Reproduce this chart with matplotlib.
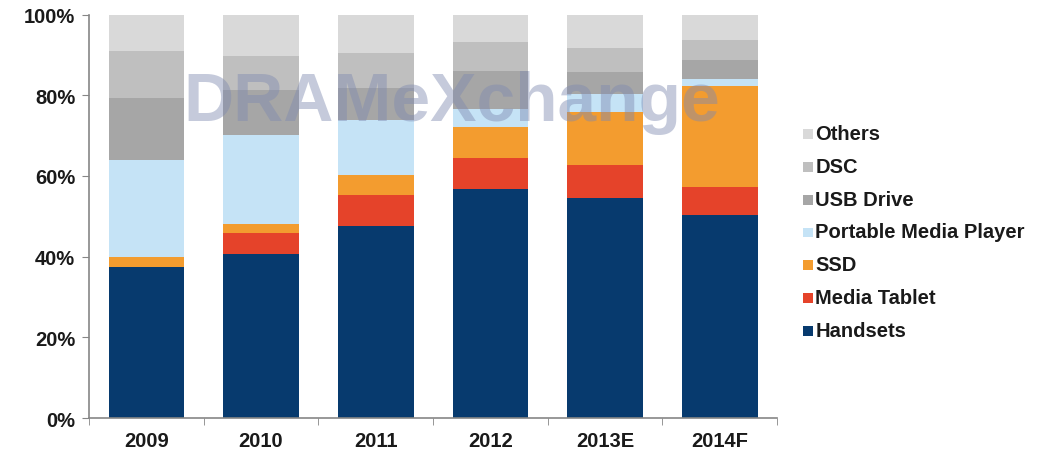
import matplotlib
matplotlib.use("Agg")
import matplotlib.pyplot as plt
import numpy as np
from matplotlib.patches import Patch
from matplotlib.ticker import FixedLocator, PercentFormatter

plt.rcParams["font.family"] = ["Liberation Sans", "DejaVu Sans"]

years = ["2009", "2010", "2011", "2012", "2013E", "2014F"]

# shares in % (bottom to top)
handsets = [37.4, 40.7, 47.7, 56.7, 54.6, 50.2]
media_tablet = [0.0, 5.1, 7.5, 7.7, 8.2, 7.0]
ssd = [2.6, 2.3, 5.1, 7.7, 13.1, 25.1]
portable_media_player = [23.9, 22.1, 13.5, 4.6, 4.5, 1.8]
usb_drive = [15.3, 11.0, 8.0, 9.3, 5.4, 4.7]
dsc = [11.8, 8.5, 8.7, 7.2, 5.9, 5.0]
others = [9.0, 10.3, 9.5, 6.8, 8.3, 6.2]

series = [
    ("Handsets", handsets, "#073a6e"),
    ("Media Tablet", media_tablet, "#e5432a"),
    ("SSD", ssd, "#f39c2f"),
    ("Portable Media Player", portable_media_player, "#c5e3f6"),
    ("USB Drive", usb_drive, "#a6a6a6"),
    ("DSC", dsc, "#bfbfbf"),
    ("Others", others, "#d9d9d9"),
]

fig = plt.figure(figsize=(10.56, 4.56), dpi=100)
ax = fig.add_axes([0.0843, 0.081, 0.6515, 0.885])

x = np.arange(len(years))
bottom = np.zeros(len(years))
for name, vals, color in series:
    vals = np.array(vals)
    ax.bar(x, vals, 0.66, bottom=bottom, color=color, label=name, zorder=2)
    bottom += vals

ax.set_xlim(-0.5, len(years) - 0.5)
ax.set_ylim(0, 100)
ax.yaxis.set_major_locator(FixedLocator([0, 20, 40, 60, 80, 100]))
ax.yaxis.set_major_formatter(PercentFormatter(decimals=0))
ax.set_xticks(x)
ax.set_xticklabels(years)
ax.set_xticks(np.arange(-0.5, len(years)), minor=True)
ax.tick_params(axis="x", which="major", length=0, pad=9)
ax.tick_params(axis="x", which="minor", length=5, color="#868686", direction="out")
ax.tick_params(axis="y", length=5, color="#868686", direction="out", pad=5)
for lab in ax.get_xticklabels() + ax.get_yticklabels():
    lab.set_fontsize(14.5)
    lab.set_fontweight("bold")
    lab.set_color("#1a1a1a")

for side in ["top", "right"]:
    ax.spines[side].set_visible(False)
for side in ["left", "bottom"]:
    ax.spines[side].set_color("#868686")
    ax.spines[side].set_linewidth(1.2)

# watermark
fig.text(0.428, 0.775, "DRAMeXchange", fontsize=50, fontweight="bold",
         color="#7f8ab0", alpha=0.45, ha="center", va="center", zorder=5)

handles = [Patch(facecolor=c, edgecolor="none") for _, _, c in series][::-1]
labels = [n for n, _, _ in series][::-1]
leg = fig.legend(handles, labels, loc="upper left", bbox_to_anchor=(0.755, 0.738),
                 frameon=False, handlelength=0.7, handleheight=0.7,
                 handletextpad=0.2, labelspacing=0.99, borderaxespad=0)
for t in leg.get_texts():
    t.set_fontsize(14.5)
    t.set_fontweight("bold")
    t.set_color("#1a1a1a")

fig.savefig("out.png", dpi=100)
